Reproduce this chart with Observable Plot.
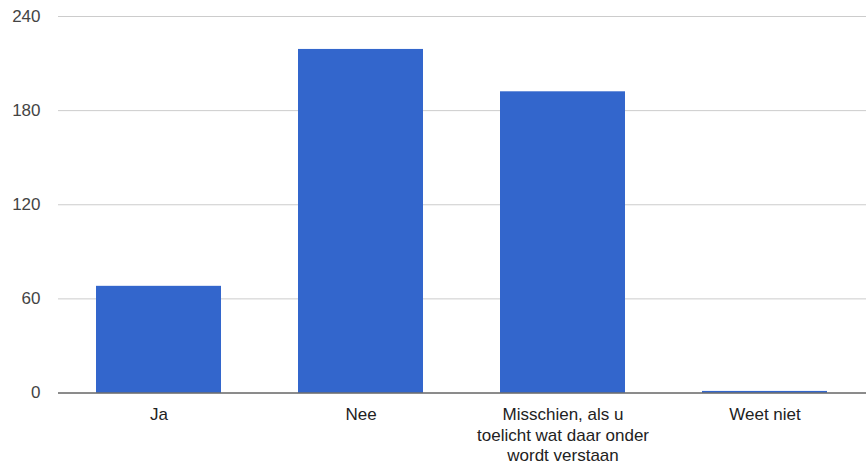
<!DOCTYPE html>
<html>
<head>
<meta charset="utf-8">
<script src="https://cdn.jsdelivr.net/npm/d3@7"></script>
<script src="https://cdn.jsdelivr.net/npm/@observablehq/plot@0.6"></script>
<style>
  html, body { margin: 0; padding: 0; background: #fff; }
</style>
</head>
<body>
<div id="chart"></div>
<script>
const categories = ["Ja", "Nee", "Misschien, als u toelicht wat daar onder wordt verstaan", "Weet niet"];
const tickLabels = ["Ja", "Nee", "Misschien, als u\ntoelicht wat daar onder\nwordt verstaan", "Weet niet"];
const values = [68, 219, 192, 1];
const yTicks = [0, 60, 120, 180, 240];

const data = categories.map((c, i) => ({category: c, value: values[i]}));
const labelOf = new Map(categories.map((c, i) => [c, tickLabels[i]]));

const chart = Plot.plot({
  width: 866,
  height: 467,
  marginLeft: 58,
  marginRight: 0,
  marginTop: 16,
  marginBottom: 74.5,
  style: {fontFamily: "Arial, 'Liberation Sans', sans-serif", fontSize: "17px", background: "#fff"},
  x: {domain: categories, paddingInner: 0.38, paddingOuter: 0.19, label: null},
  y: {domain: [0, 240], label: null},
  marks: [
    Plot.gridY(yTicks, {stroke: "#cccccc", strokeOpacity: 1}),
    Plot.barY(data, {x: "category", y: "value", fill: "#3366cc"}),
    Plot.ruleY([0], {stroke: "#333333", strokeWidth: 1.2}),
    Plot.axisY(yTicks, {tickSize: 0, tickPadding: 18, fill: "#444444", label: null}),
    Plot.axisX({tickSize: 0, tickPadding: 13, fill: "#222222", lineHeight: 1.2, tickFormat: d => labelOf.get(d), label: null})
  ]
});
document.getElementById("chart").appendChild(chart);
</script>
</body>
</html>
